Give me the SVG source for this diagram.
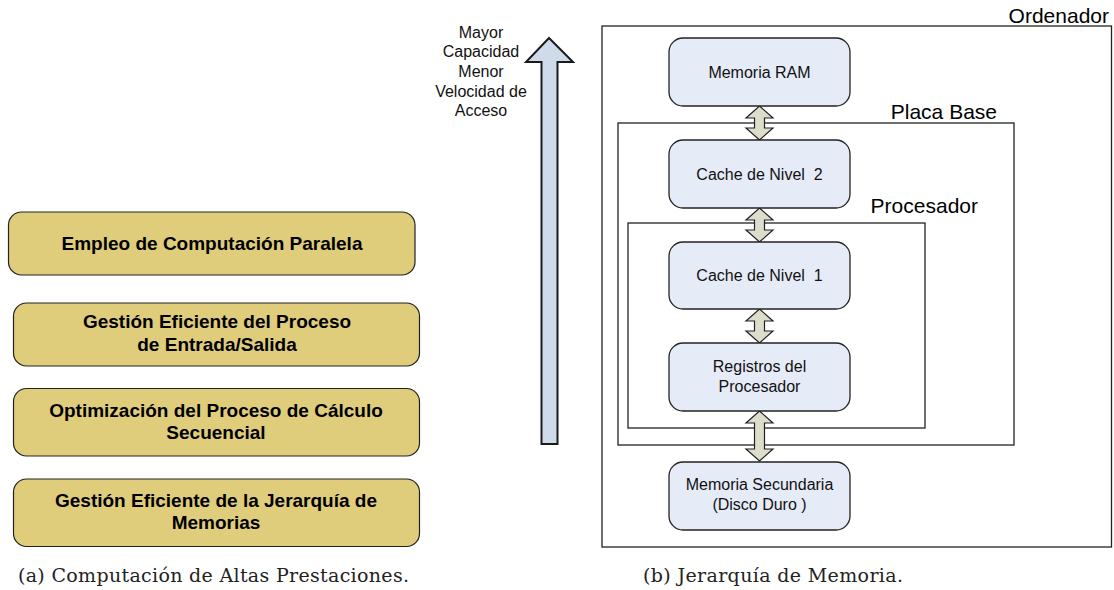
<svg xmlns="http://www.w3.org/2000/svg" width="1114" height="590" viewBox="0 0 1114 590">
<style>
.gold{fill:#DFCD7C;stroke:#222;stroke-width:1.2}
.gt{font-family:"Liberation Sans",Arial,sans-serif;font-weight:bold;font-size:19px;fill:#000;text-anchor:middle}
.node{fill:#E6ECF7;stroke:#222;stroke-width:1.3}
.nt{font-family:"Liberation Sans",Arial,sans-serif;font-size:16px;fill:#111;text-anchor:middle}
.cont{fill:none;stroke:#222;stroke-width:1.3}
.lbl{font-family:"Liberation Sans",Arial,sans-serif;font-size:21px;fill:#000;text-anchor:end}
.side{font-family:"Liberation Sans",Arial,sans-serif;font-size:16px;fill:#111;text-anchor:middle}
.dbl{fill:#DCDECB;stroke:#222;stroke-width:1.2;stroke-linejoin:miter}
.cap{font-family:"DejaVu Serif","Liberation Serif",serif;font-size:19px;fill:#222}
</style>
<rect width="1114" height="590" fill="#fff"/>

<g id="box-paralela">
<rect class="gold" x="8.5" y="212" width="406.5" height="63" rx="13"/>
<text class="gt" x="212" y="250">Empleo de Computación Paralela</text>
</g>
<g id="box-es">
<rect class="gold" x="13.5" y="303" width="406" height="63" rx="13"/>
<text class="gt" x="217" y="328">Gestión Eficiente del Proceso</text>
<text class="gt" x="217" y="351">de Entrada/Salida</text>
</g>
<g id="box-calculo">
<rect class="gold" x="13.5" y="388.5" width="406" height="67.5" rx="13"/>
<text class="gt" x="216" y="417">Optimización del Proceso de Cálculo</text>
<text class="gt" x="216" y="439">Secuencial</text>
</g>
<g id="box-jerarquia">
<rect class="gold" x="13.5" y="479" width="406" height="67.5" rx="13"/>
<text class="gt" x="216" y="507">Gestión Eficiente de la Jerarquía de</text>
<text class="gt" x="216" y="529">Memorias</text>
</g>
<text class="cap" x="18" y="582" textLength="391" lengthAdjust="spacing">(a) Computación de Altas Prestaciones.</text>

<g id="capacity-arrow">
<path d="M549,38 L573,62 L557.5,62 L557.5,444 L541.5,444 L541.5,62 L526,62 Z" fill="#CFDAEB" stroke="#1a1a1a" stroke-width="2"/>
<text class="side" x="481" y="37.5">Mayor</text>
<text class="side" x="481" y="57.2">Capacidad</text>
<text class="side" x="481" y="77">Menor</text>
<text class="side" x="481" y="96.7">Velocidad de</text>
<text class="side" x="481" y="116.4">Acceso</text>
</g>

<g id="ordenador">
<rect class="cont" x="602" y="26" width="509.5" height="521"/>
<text class="lbl" x="1109" y="23">Ordenador</text>
</g>
<g id="placa-base">
<rect class="cont" x="618" y="123" width="396" height="322"/>
<text class="lbl" x="997" y="119">Placa Base</text>
</g>
<g id="procesador">
<rect class="cont" x="628" y="223" width="297" height="205"/>
<text class="lbl" x="978" y="213">Procesador</text>
</g>

<g id="connectors">
<path class="dbl" d="M759.5,106 L773,118 L764.5,118 L764.5,128 L773,128 L759.5,140 L746,128 L754.5,128 L754.5,118 L746,118 Z"/>
<path class="dbl" d="M759.5,208 L773,220 L764.5,220 L764.5,230 L773,230 L759.5,242 L746,230 L754.5,230 L754.5,220 L746,220 Z"/>
<path class="dbl" d="M759.5,309 L773,321 L764.5,321 L764.5,331 L773,331 L759.5,343 L746,331 L754.5,331 L754.5,321 L746,321 Z"/>
<path class="dbl" d="M759.5,411 L773,423 L764.5,423 L764.5,449 L773,449 L759.5,461 L746,449 L754.5,449 L754.5,423 L746,423 Z"/>
</g>

<g id="ram">
<rect class="node" x="669" y="38" width="181" height="68" rx="14"/>
<text class="nt" x="759.5" y="77.5">Memoria RAM</text>
</g>
<g id="cache2">
<rect class="node" x="669" y="140" width="181" height="68" rx="14"/>
<text class="nt" x="759.5" y="180" xml:space="preserve">Cache de Nivel  2</text>
</g>
<g id="cache1">
<rect class="node" x="669" y="242" width="181" height="67" rx="14"/>
<text class="nt" x="759.5" y="281" xml:space="preserve">Cache de Nivel  1</text>
</g>
<g id="registros">
<rect class="node" x="669" y="343" width="181" height="68" rx="14"/>
<text class="nt" x="759.5" y="372">Registros del</text>
<text class="nt" x="759.5" y="392">Procesador</text>
</g>
<g id="secundaria">
<rect class="node" x="669" y="462" width="181" height="68" rx="14"/>
<text class="nt" x="759.5" y="490">Memoria Secundaria</text>
<text class="nt" x="759.5" y="510">(Disco Duro )</text>
</g>
<text class="cap" x="643" y="582" textLength="260" lengthAdjust="spacing">(b) Jerarquía de Memoria.</text>
</svg>
